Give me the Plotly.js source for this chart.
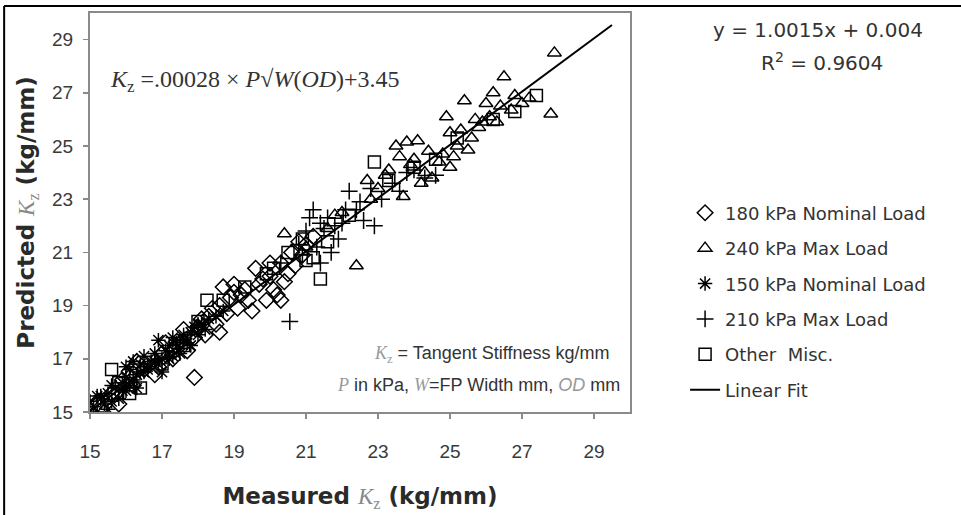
<!DOCTYPE html>
<html>
<head>
<meta charset="utf-8">
<script src="https://cdn.plot.ly/plotly-3.0.1.min.js"></script>
<style>html,body{margin:0;padding:0;background:#fff;}#chart{width:961px;height:515px;}</style>
</head>
<body>
<div id="chart"></div>
<script>
// 150 kPa Nominal Load (asterisks)
const ast150X = [15.0,15.1,15.2,15.3,15.4,15.5,15.6,15.7,15.8,15.9,16.0,16.0,16.1,16.2,16.2,16.3,16.4,16.5,16.5,16.6,16.7,16.8,16.9,16.9,17.0,17.1,17.2,17.3,17.3,17.4,17.5,17.6,17.7,17.8,17.9,18.0,18.1,18.2,18.3,18.5,18.7,15.3,15.6,16.1,16.4,16.8,17.2,17.6,18.0,15.9,16.6,15.5,16.3,17.0,17.8,15.2,16.0,17.5];
const ast150Y = [15.4,15.2,15.0,15.5,15.3,15.7,15.4,15.9,15.5,16.1,16.3,15.8,16.6,16.2,16.9,16.4,16.8,16.5,17.1,16.7,16.9,17.2,17.7,16.8,17.0,17.3,17.5,17.1,17.8,17.6,17.4,17.9,17.6,18.0,18.2,17.9,18.3,18.1,18.5,18.6,18.8,15.6,16.0,16.0,16.5,16.9,17.0,17.7,18.3,15.8,16.6,15.1,15.9,16.5,17.5,15.6,16.7,17.2];
// 180 kPa Nominal Load (diamonds)
const dia180X = [15.6,15.9,16.2,16.5,16.8,17.0,17.3,17.5,17.7,17.9,18.0,18.2,18.3,18.5,18.6,18.8,18.9,19.0,19.1,19.3,19.4,19.5,19.6,19.7,19.9,20.0,20.1,20.2,20.3,20.4,20.5,20.6,20.7,20.9,21.0,21.2,18.4,18.7,19.2,19.8,20.3,17.9,16.9,17.4,18.1,16.3,17.1,18.6,19.0,20.0,20.8,15.8,17.6];
const dia180Y = [15.7,16.2,16.0,16.6,16.4,17.2,17.0,17.6,17.3,16.3,18.2,17.9,18.6,18.3,19.0,18.7,19.3,19.5,18.9,19.6,19.2,18.8,20.4,19.8,19.2,20.1,19.6,19.4,20.6,19.9,20.2,21.0,20.5,20.9,21.3,21.6,18.9,19.7,19.4,20.0,19.2,17.8,16.7,17.5,18.5,16.9,17.6,18.0,19.8,20.6,21.4,15.3,18.1];
// 240 kPa Max Load (triangles)
const tri240X = [20.4,21.0,21.6,22.0,22.4,22.7,23.0,23.3,23.5,23.7,23.8,24.0,24.1,24.3,24.5,24.7,24.9,25.0,25.1,25.2,25.4,25.5,25.6,25.8,25.9,26.0,26.2,26.4,26.5,26.7,26.8,27.0,27.2,27.8,27.9,23.2,24.4,25.3,22.8,21.8,24.8,26.1,23.9,25.7,24.2,25.0,26.3,23.6];
const tri240Y = [21.7,21.2,21.9,22.5,20.5,23.7,23.4,24.1,25.0,23.1,25.15,24.5,25.2,24.0,23.8,24.4,26.1,25.5,24.6,25.0,26.7,24.85,25.3,25.7,25.9,26.6,27.0,26.5,27.6,26.35,26.9,26.6,26.8,26.2,28.5,23.9,24.8,25.6,23.0,22.4,24.7,26.1,24.3,26.0,23.6,24.2,25.9,24.6];
// 210 kPa Max Load (plus)
const plu210X = [20.55,20.8,21.0,21.1,21.2,21.4,21.5,21.6,21.8,21.9,22.1,22.2,22.4,22.6,22.9,23.1,23.4,23.6,24.0,24.3,24.6,21.3,21.7,22.0,22.5,20.9,21.4,23.8,20.3,22.8];
const plu210Y = [18.4,21.3,21.8,22.3,22.6,20.6,21.9,22.3,22.0,21.5,22.6,23.3,22.6,22.2,22.0,23.0,23.6,23.3,24.1,23.8,23.9,21.2,21.0,22.1,22.9,20.9,22.1,24.0,20.6,23.4];
// Other Misc. (squares)
const miscX = [15.6,15.8,16.4,17.0,17.6,18.25,18.7,19.3,19.9,20.5,20.9,21.2,21.4,21.6,22.2,22.9,23.3,24.0,24.6,25.2,26.2,26.8,27.4,16.1,20.1,21.0,18.0];
const miscY = [16.6,16.1,15.9,16.8,17.5,19.2,19.2,19.7,20.2,21.0,21.5,20.8,20.0,21.4,22.4,24.4,23.7,24.2,24.5,25.3,26.0,26.3,26.9,15.7,20.4,20.7,18.4];
// Linear fit y = 1.0015x + 0.004
const fitX = [15, 29.5];
const fitY = [15.03, 29.55];
const tickVals = [15,17,19,21,23,25,27,29];
const seriesNames = ["180 kPa Nominal Load","240 kPa Max Load","150 kPa Nominal Load","210 kPa Max Load","Other  Misc.","Linear Fit"];

const SANS = "DejaVu Sans, sans-serif";
const FONT = "Liberation Sans, Arial, sans-serif";
const mk = (sym) => ({symbol: sym, size: 12, color: "#000", line: {color: "#111", width: 1.5}});

const traces = [
  {x: dia180X, y: dia180Y, name: seriesNames[0], mode: "markers", type: "scatter", marker: mk("diamond-open"), legendgroup: "a"},
  {x: tri240X, y: tri240Y, name: seriesNames[1], mode: "markers", type: "scatter", marker: mk("triangle-up-open"), legendgroup: "b"},
  {x: ast150X, y: ast150Y, name: seriesNames[2], mode: "markers", type: "scatter", marker: mk("asterisk-open"), legendgroup: "c"},
  {x: plu210X, y: plu210Y, name: seriesNames[3], mode: "markers", type: "scatter", marker: mk("cross-thin-open"), legendgroup: "d"},
  {x: miscX, y: miscY, name: seriesNames[4], mode: "markers", type: "scatter", marker: mk("square-open"), legendgroup: "e"},
  {x: fitX, y: fitY, name: seriesNames[5], mode: "lines", type: "scatter", line: {color: "#000", width: 2}, legendgroup: "f"}
];

const axisCommon = {
  range: [15, 30], tickvals: tickVals, ticktext: tickVals.map(String),
  showgrid: false, zeroline: false, showline: true, mirror: true,
  linecolor: "#8a8a8a", linewidth: 2, ticks: "outside", ticklen: 5, tickcolor: "#8a8a8a", tickwidth: 1.5,
  tickfont: {family: FONT, size: 19, color: "#3a3a3a"}, fixedrange: true
};

const kz = "<span style='font-family:Liberation Serif;font-weight:normal;color:#888'><i>K</i><sub>z</sub></span>";

const layout = {
  width: 961, height: 515,
  margin: {l: 90, r: 331, t: 13, b: 103},
  paper_bgcolor: "#fff", plot_bgcolor: "#fff",
  font: {family: FONT, color: "#333"},
  xaxis: Object.assign({}, axisCommon, {
    ticklabelstandoff: 16,
    title: {text: "Measured " + kz + " (kg/mm)", font: {family: SANS, size: 23, color: "#2a2a2a", weight: "bold"}, standoff: 27}
  }),
  yaxis: Object.assign({}, axisCommon, {
    ticklabelstandoff: 6,
    title: {text: "Predicted " + kz + " (kg/mm)", font: {family: SANS, size: 23, color: "#2a2a2a", weight: "bold"}, standoff: 11}
  }),
  showlegend: true,
  legend: {x: 1.102, y: 0.545, xanchor: "left", yanchor: "top", font: {family: SANS, size: 18, color: "#333"}, tracegroupgap: 9, bgcolor: "rgba(0,0,0,0)", itemwidth: 30},
  annotations: [
    {xref: "paper", yref: "paper", x: 0.033, y: 0.83, xanchor: "left", yanchor: "middle", showarrow: false,
     text: "<i>K</i><sub>z</sub> =.00028 × <i>P</i>√<i>W</i>(<i>OD</i>)+3.45", font: {family: "Liberation Serif, serif", size: 24, color: "#333"}},
    {xref: "paper", yref: "paper", x: 1.348, y: 0.957, xanchor: "center", yanchor: "middle", showarrow: false,
     text: "y = 1.0015x + 0.004", font: {family: SANS, size: 20, color: "#333"}},
    {xref: "paper", yref: "paper", x: 1.356, y: 0.877, xanchor: "center", yanchor: "middle", showarrow: false,
     text: "R<sup>2</sup> = 0.9604", font: {family: SANS, size: 20, color: "#333"}},
    {xref: "paper", yref: "paper", x: 0.967, y: 0.143, xanchor: "right", yanchor: "middle", showarrow: false,
     text: "<span style='font-family:Liberation Serif;color:#999'><i>K</i><sub>z</sub></span> = Tangent Stiffness kg/mm", font: {family: FONT, size: 18, color: "#333"}},
    {xref: "paper", yref: "paper", x: 0.985, y: 0.068, xanchor: "right", yanchor: "middle", showarrow: false,
     text: "<span style='font-family:Liberation Serif;color:#999'><i>P</i></span> in kPa, <span style='font-family:Liberation Serif;color:#999'><i>W</i></span>=FP Width mm, <span style='color:#999'><i>OD</i></span> mm", font: {family: FONT, size: 18, color: "#333"}}
  ],
  shapes: [
    {type: "line", xref: "paper", yref: "paper", x0: -0.159, x1: -0.159, y0: -0.27, y1: 1.0175, line: {color: "#000", width: 2}},
    {type: "line", xref: "paper", yref: "paper", x0: -0.159, x1: 1.62, y0: 1.0175, y1: 1.0175, line: {color: "#000", width: 2}}
  ]
};

Plotly.newPlot("chart", traces, layout, {displayModeBar: false, staticPlot: true});
</script>
</body>
</html>
